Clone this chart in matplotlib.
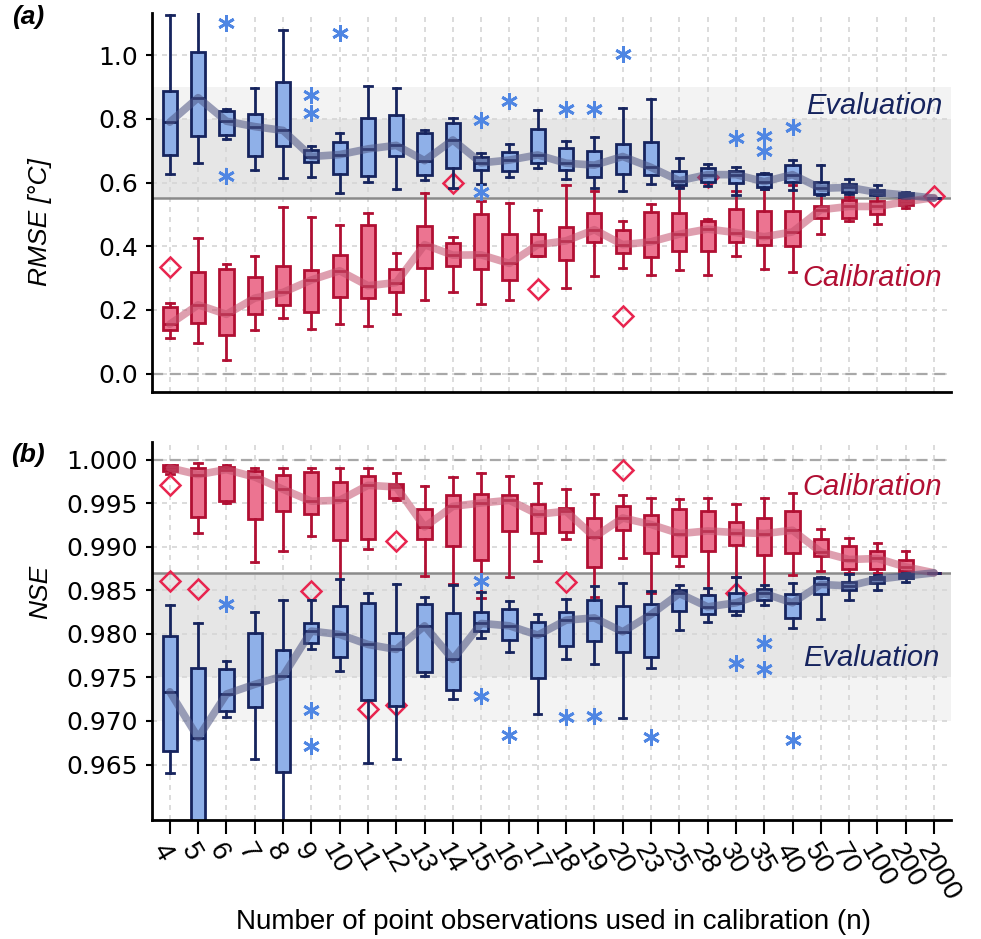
import matplotlib
matplotlib.use("Agg")
import matplotlib.pyplot as plt

# sample sizes on the x axis
n_labels = ["4", "5", "6", "7", "8", "9", "10", "11", "12", "13", "14", "15", "16", "17",
            "18", "19", "20", "23", "25", "28", "30", "35", "40", "50", "70", "100", "200", "2000"]

# box stats per n: [whisker low, q1, median, q3, whisker high]
rmse_eval = [
    [0.627, 0.688, 0.790, 0.887, 1.128], [0.662, 0.748, 0.867, 1.010, 1.250],
    [0.738, 0.751, 0.793, 0.825, 0.832], [0.641, 0.684, 0.776, 0.816, 0.898],
    [0.615, 0.714, 0.764, 0.915, 1.079], [0.617, 0.664, 0.682, 0.701, 0.714],
    [0.568, 0.627, 0.688, 0.729, 0.755], [0.601, 0.622, 0.706, 0.803, 0.903],
    [0.580, 0.685, 0.717, 0.814, 0.898], [0.608, 0.625, 0.669, 0.757, 0.764],
    [0.583, 0.645, 0.734, 0.787, 0.804], [0.596, 0.641, 0.662, 0.680, 0.693],
    [0.617, 0.636, 0.671, 0.695, 0.720], [0.646, 0.661, 0.687, 0.767, 0.827],
    [0.612, 0.640, 0.661, 0.709, 0.732], [0.583, 0.617, 0.655, 0.698, 0.742],
    [0.575, 0.627, 0.682, 0.720, 0.834], [0.596, 0.625, 0.648, 0.727, 0.864],
    [0.582, 0.593, 0.606, 0.638, 0.678], [0.590, 0.603, 0.625, 0.645, 0.659],
    [0.562, 0.599, 0.625, 0.638, 0.648], [0.580, 0.585, 0.603, 0.627, 0.630],
    [0.577, 0.603, 0.625, 0.654, 0.672], [0.560, 0.564, 0.582, 0.603, 0.654],
    [0.564, 0.572, 0.585, 0.596, 0.612], [0.560, 0.561, 0.569, 0.577, 0.594],
    [0.552, 0.554, 0.561, 0.566, 0.572], [0.551, 0.551, 0.551, 0.551, 0.551],
]
rmse_cal = [
    [0.111, 0.136, 0.155, 0.210, 0.223], [0.095, 0.160, 0.216, 0.320, 0.426],
    [0.043, 0.121, 0.186, 0.328, 0.344], [0.136, 0.188, 0.237, 0.302, 0.370],
    [0.173, 0.215, 0.255, 0.339, 0.524], [0.141, 0.192, 0.294, 0.326, 0.493],
    [0.155, 0.239, 0.323, 0.373, 0.468], [0.150, 0.237, 0.276, 0.468, 0.505],
    [0.188, 0.255, 0.286, 0.330, 0.380], [0.231, 0.333, 0.405, 0.465, 0.566],
    [0.257, 0.339, 0.372, 0.410, 0.430], [0.218, 0.328, 0.373, 0.501, 0.543],
    [0.231, 0.293, 0.346, 0.438, 0.536], [0.370, 0.370, 0.405, 0.438, 0.514],
    [0.268, 0.357, 0.417, 0.462, 0.591], [0.307, 0.414, 0.452, 0.505, 0.573],
    [0.333, 0.379, 0.405, 0.452, 0.478], [0.309, 0.367, 0.414, 0.507, 0.533],
    [0.326, 0.384, 0.438, 0.505, 0.587], [0.309, 0.386, 0.454, 0.478, 0.486],
    [0.370, 0.412, 0.443, 0.517, 0.573], [0.328, 0.404, 0.430, 0.510, 0.580],
    [0.320, 0.400, 0.445, 0.510, 0.591], [0.440, 0.490, 0.515, 0.528, 0.564],
    [0.480, 0.490, 0.525, 0.545, 0.554], [0.470, 0.500, 0.525, 0.543, 0.564],
    [0.520, 0.530, 0.540, 0.549, 0.560], [0.553, 0.553, 0.553, 0.553, 0.553],
]
nse_eval = [
    [0.96406, 0.96655, 0.97335, 0.97974, 0.98329], [0.950, 0.955, 0.96807, 0.97603, 0.98126],
    [0.97048, 0.97114, 0.97309, 0.97592, 0.97687], [0.96560, 0.97156, 0.97420, 0.98005, 0.98245],
    [0.950, 0.96417, 0.97515, 0.97813, 0.98387], [0.97825, 0.97897, 0.98031, 0.98119, 0.98387],
    [0.97576, 0.97736, 0.97993, 0.98318, 0.98635], [0.96514, 0.97240, 0.97878, 0.98356, 0.98463],
    [0.96560, 0.97171, 0.97821, 0.98005, 0.98567], [0.97515, 0.97564, 0.98092, 0.98337, 0.98424],
    [0.97248, 0.97354, 0.97706, 0.98234, 0.98558], [0.97947, 0.98031, 0.98119, 0.98245, 0.98482],
    [0.97794, 0.97929, 0.98092, 0.98283, 0.98379], [0.97079, 0.97488, 0.97985, 0.98138, 0.98222],
    [0.97706, 0.97862, 0.98157, 0.98245, 0.98398], [0.97653, 0.97920, 0.98183, 0.98387, 0.98550],
    [0.97037, 0.97787, 0.98023, 0.98318, 0.98585], [0.97603, 0.97736, 0.98222, 0.98341, 0.98490],
    [0.98043, 0.98264, 0.98463, 0.98501, 0.98558], [0.98138, 0.98226, 0.98310, 0.98444, 0.98521],
    [0.98214, 0.98260, 0.98356, 0.98470, 0.98654], [0.98329, 0.98387, 0.98463, 0.98509, 0.98558],
    [0.98062, 0.98183, 0.98356, 0.98452, 0.98578], [0.98168, 0.98455, 0.98567, 0.98642, 0.98654],
    [0.98394, 0.98501, 0.98550, 0.98596, 0.98685], [0.98501, 0.98578, 0.98627, 0.98654, 0.98681],
    [0.98596, 0.98642, 0.98665, 0.98685, 0.98693], [0.98700, 0.98700, 0.98700, 0.98700, 0.98700],
]
nse_cal = [
    [0.99831, 0.99866, 0.99904, 0.99935, 0.99943], [0.99158, 0.99342, 0.99828, 0.99904, 0.99966],
    [0.99502, 0.99525, 0.99885, 0.99915, 0.99943], [0.98826, 0.99323, 0.99800, 0.99869, 0.99908],
    [0.98952, 0.99411, 0.99659, 0.99820, 0.99904], [0.99124, 0.99373, 0.99522, 0.99858, 0.99908],
    [0.98080, 0.99075, 0.99533, 0.99743, 0.99904], [0.98971, 0.99086, 0.99705, 0.99812, 0.99904],
    [0.99533, 0.99564, 0.99686, 0.99717, 0.99851], [0.98662, 0.99094, 0.99227, 0.99438, 0.99697],
    [0.98567, 0.99006, 0.99464, 0.99599, 0.99800], [0.98417, 0.98845, 0.99502, 0.99602, 0.99847],
    [0.98654, 0.99178, 0.99533, 0.99591, 0.99808], [0.98837, 0.99158, 0.99373, 0.99487, 0.99732],
    [0.99086, 0.99170, 0.99407, 0.99445, 0.99667], [0.98424, 0.98768, 0.99112, 0.99335, 0.99602],
    [0.98872, 0.99189, 0.99330, 0.99464, 0.99591], [0.98463, 0.98929, 0.99255, 0.99361, 0.99560],
    [0.98776, 0.98895, 0.99151, 0.99438, 0.99545], [0.98444, 0.98952, 0.99181, 0.99411, 0.99564],
    [0.98654, 0.99025, 0.99163, 0.99285, 0.99487], [0.98470, 0.98903, 0.99151, 0.99330, 0.99564],
    [0.98681, 0.98933, 0.99189, 0.99411, 0.99617], [0.98722, 0.98895, 0.98940, 0.99086, 0.99209],
    [0.98700, 0.98739, 0.98853, 0.99006, 0.99105], [0.98700, 0.98742, 0.98865, 0.98952, 0.99044],
    [0.98715, 0.98722, 0.98768, 0.98845, 0.98952], [0.98700, 0.98700, 0.98700, 0.98700, 0.98700],
]

# outliers: (index into n_labels, value)
rmse_eval_out = [(2, 1.103), (2, 0.622), (5, 0.874), (5, 0.818), (6, 1.070), (11, 0.797),
                 (11, 0.569), (12, 0.858), (14, 0.830), (15, 0.830), (16, 1.005), (20, 0.741),
                 (21, 0.748), (21, 0.699), (22, 0.776)]
rmse_cal_out = [(0, 0.335), (10, 0.598), (13, 0.265), (16, 0.181), (19, 0.619), (27, 0.559)]
nse_eval_out = [(2, 0.98341), (5, 0.97125), (5, 0.96716), (11, 0.98604), (11, 0.97286),
                (12, 0.96839), (14, 0.97048), (15, 0.97056), (17, 0.96812), (20, 0.97661),
                (21, 0.97897), (21, 0.97595), (22, 0.96780)]
nse_cal_out = [(0, 0.99713), (0, 0.98608), (1, 0.98509), (5, 0.98493), (7, 0.97133),
               (8, 0.99063), (8, 0.97179), (14, 0.98596), (16, 0.99885), (20, 0.98463)]

# reference values (n = 2000 run) and shaded ranges
rmse_ref = 0.552
nse_ref = 0.987
rmse_bands = [(0.552, 0.80, "#e6e6e6"), (0.80, 0.90, "#f3f3f3")]
nse_bands = [(0.975, 0.987, "#e6e6e6"), (0.970, 0.975, "#f3f3f3")]

EVAL_EDGE = "#16245e"
EVAL_FILL = "#8fb0e8"
EVAL_STAR = "#4f86e3"
CAL_EDGE = "#b10f33"
CAL_FILL = "#ec7491"
CAL_DIAM = "#e8254f"

FONT = ["Liberation Sans", "DejaVu Sans"]
ASTERISK = (6, 2, 0)

pos = list(range(len(n_labels)))


def make_stats(boxes, outliers):
    stats = []
    for i, (lo, q1, med, q3, hi) in enumerate(boxes):
        stats.append({"whislo": lo, "q1": q1, "med": med, "q3": q3, "whishi": hi,
                      "fliers": [v for j, v in outliers if j == i]})
    return stats


def draw_series(ax, boxes, outliers, edge, fill, marker, mcolor, line_color):
    if marker == "D":
        fl = dict(marker="D", markersize=10.5, markerfacecolor="none",
                  markeredgecolor=mcolor, markeredgewidth=1.8, linestyle="none")
    else:
        fl = dict(marker=ASTERISK, markersize=12, markerfacecolor=mcolor,
                  markeredgecolor=mcolor, markeredgewidth=2.0, linestyle="none")
    ax.bxp(make_stats(boxes, outliers), positions=pos, widths=0.5, capwidths=0.26,
           patch_artist=True, manage_ticks=False,
           boxprops=dict(facecolor=fill, edgecolor=edge, linewidth=2),
           whiskerprops=dict(color=edge, linewidth=2),
           capprops=dict(color=edge, linewidth=2),
           medianprops=dict(color=edge, linewidth=2),
           flierprops=fl)
    meds = [b[2] for b in boxes]
    ax.plot(pos, meds, color=line_color, lw=5.5, alpha=0.55, zorder=4,
            solid_capstyle="round")


def style_axes(ax, ylim, yticks, fmt, ref_dash, ref_line, bands):
    ax.set_xlim(-0.63, 27.6)
    ax.set_ylim(*ylim)
    for lo, hi, c in bands:
        ax.axhspan(lo, hi, color=c, zorder=0, lw=0)
    ax.axhline(ref_line, color="#8a8a8a", lw=1.8, zorder=1)
    ax.axhline(ref_dash, color="#a8a8a8", lw=1.6, ls=(0, (5, 3)), zorder=1)
    ax.set_xticks(pos)
    ax.set_yticks(yticks)
    ax.set_yticklabels([fmt.format(t) for t in yticks], family=["DejaVu Sans"], fontsize=18)
    ax.grid(True, color="#d6d6d6", lw=1.2, ls=(0, (3, 3)), zorder=0.5)
    ax.set_axisbelow(True)
    for s in ["top", "right"]:
        ax.spines[s].set_visible(False)
    for s in ["left", "bottom"]:
        ax.spines[s].set_linewidth(2)
    ax.tick_params(axis="y", length=4, width=1.5, pad=6)


fig = plt.figure(figsize=(9.81, 9.39), dpi=100)
ax_a = fig.add_axes([152 / 981, 1 - 392 / 939, 799 / 981, 379 / 939])
ax_b = fig.add_axes([152 / 981, 1 - 820 / 939, 799 / 981, 378 / 939])

# (a) RMSE
style_axes(ax_a, (-0.058, 1.133), [0.0, 0.2, 0.4, 0.6, 0.8, 1.0], "{:.1f}", 0.0, rmse_ref, rmse_bands)
draw_series(ax_a, rmse_cal, rmse_cal_out, CAL_EDGE, CAL_FILL, "D", CAL_DIAM, "#c4516d")
draw_series(ax_a, rmse_eval, rmse_eval_out, EVAL_EDGE, EVAL_FILL, "*", EVAL_STAR, "#4d5585")
ax_a.tick_params(axis="x", length=0, labelbottom=False)
ax_a.text(27.3, 0.84, "Evaluation", color=EVAL_EDGE, fontsize=21, style="italic",
          family=FONT, ha="right", va="center")
ax_a.text(27.3, 0.30, "Calibration", color=CAL_EDGE, fontsize=21, style="italic",
          family=FONT, ha="right", va="center")

# (b) NSE
style_axes(ax_b, (0.95863, 1.00202),
           [0.965, 0.970, 0.975, 0.980, 0.985, 0.990, 0.995, 1.000], "{:.3f}",
           1.0, nse_ref, nse_bands)
draw_series(ax_b, nse_cal, nse_cal_out, CAL_EDGE, CAL_FILL, "D", CAL_DIAM, "#c4516d")
draw_series(ax_b, nse_eval, nse_eval_out, EVAL_EDGE, EVAL_FILL, "*", EVAL_STAR, "#4d5585")
ax_b.set_xticklabels(n_labels, rotation=-60, rotation_mode="anchor", ha="left",
                     va="top", family=FONT, fontsize=20)
ax_b.tick_params(axis="x", length=10, width=1.5, pad=4)
ax_b.text(27.3, 0.99683, "Calibration", color=CAL_EDGE, fontsize=21, style="italic",
          family=FONT, ha="right", va="center")
ax_b.text(27.2, 0.97719, "Evaluation", color=EVAL_EDGE, fontsize=21, style="italic",
          family=FONT, ha="right", va="center")

fig.text(28 / 981, 1 - 17 / 939, "(a)", fontsize=19, weight="bold", style="italic",
         family=FONT, ha="center", va="center")
fig.text(28 / 981, 1 - 455 / 939, "(b)", fontsize=19, weight="bold", style="italic",
         family=FONT, ha="center", va="center")
fig.text(40 / 981, 1 - 222 / 939, "RMSE [°C]", fontsize=19, style="italic", family=FONT,
         rotation=90, ha="center", va="center")
fig.text(40 / 981, 1 - 592 / 939, "NSE", fontsize=19, style="italic", family=FONT,
         rotation=90, ha="center", va="center")
fig.text(553 / 981, 1 - 922 / 939, "Number of point observations used in calibration (n)",
         fontsize=20, family=FONT, ha="center", va="center")

fig.savefig("out.png", dpi=100, facecolor="white")
